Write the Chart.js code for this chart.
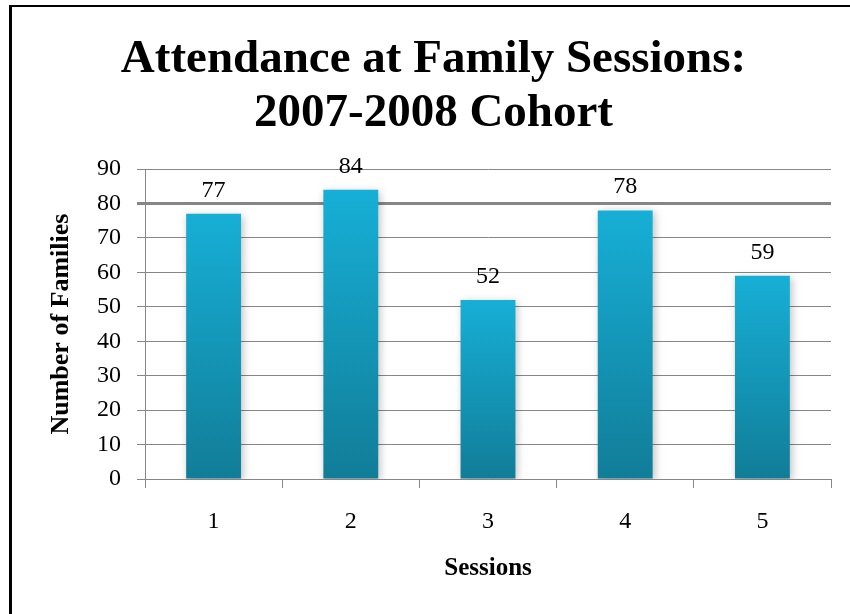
<!DOCTYPE html>
<html>
<head>
<meta charset="utf-8">
<script src="https://cdn.jsdelivr.net/npm/chart.js@4"></script>
<style>
  html, body { margin: 0; padding: 0; background: #fff; }
  #wrap { position: relative; width: 850px; height: 614px; overflow: hidden; }
  #frame { position: absolute; left: 9px; top: 5px; right: -10px; bottom: -10px;
           border-left: 3px solid #000; border-top: 2px solid #000; }
  #chart { position: absolute; left: 0; top: 0; }
</style>
</head>
<body>
<div id="wrap">
  <div id="frame"></div>
  <canvas id="chart" width="850" height="614"></canvas>
</div>
<script>
const sessions = ['1', '2', '3', '4', '5'];
const families = [77, 84, 52, 78, 59];
const titleLines = ['Attendance at Family Sessions:', '2007-2008 Cohort'];
const yMax = 90;
const yStep = 10;

const serif = '"Liberation Serif", "Times New Roman", serif';

// gradient per bar, light cyan at the top fading to teal at the base
function barFill(ctx) {
    const chart = ctx.chart;
    const y = chart.scales && chart.scales.y;
    if (!chart.chartArea || !y || ctx.type !== 'data') return '#15a0c4';
    const top = y.getPixelForValue(ctx.raw);
    const base = y.getPixelForValue(0);
    if (!isFinite(top) || !isFinite(base) || top === base) return '#15a0c4';
    const g = chart.ctx.createLinearGradient(0, top, 0, base);
    g.addColorStop(0, '#17afd6');
    g.addColorStop(1, '#117d98');
    return g;
}

// soft drop shadow behind the bars
const barShadow = {
    id: 'barShadow',
    beforeDatasetDraw(chart) {
        const c = chart.ctx;
        c.save();
        c.shadowColor = 'rgba(0,0,0,0.25)';
        c.shadowBlur = 8;
        c.shadowOffsetX = 2;
        c.shadowOffsetY = 2;
    },
    afterDatasetDraw(chart) {
        chart.ctx.restore();
    }
};

// value written above each bar
const valueLabels = {
    id: 'valueLabels',
    afterDatasetsDraw(chart) {
        const c = chart.ctx;
        const meta = chart.getDatasetMeta(0);
        c.save();
        c.font = '24px ' + serif;
        c.fillStyle = '#000';
        c.textAlign = 'center';
        c.textBaseline = 'alphabetic';
        meta.data.forEach((bar, i) => {
            c.fillText(String(families[i]), bar.x, bar.y - 17);
        });
        c.restore();
    }
};

new Chart(document.getElementById('chart'), {
    type: 'bar',
    data: {
        labels: sessions,
        datasets: [{
            data: families,
            backgroundColor: barFill,
            borderWidth: 0,
            categoryPercentage: 1,
            barPercentage: 0.4
        }]
    },
    plugins: [barShadow, valueLabels],
    options: {
        responsive: false,
        animation: false,
        // left padding pushes the centred title to the right
        layout: { padding: { left: 36, right: 19, top: 0, bottom: 0 } },
        plugins: {
            legend: { display: false },
            tooltip: { enabled: false },
            title: {
                display: true,
                text: titleLines,
                color: '#000',
                font: { family: serif, size: 47, weight: 'bold', lineHeight: 1.15 },
                padding: { top: 32.5, bottom: 28.5 }
            }
        },
        scales: {
            x: {
                afterFit(scale) { scale.height = 135; },
                grid: { drawOnChartArea: false, drawTicks: true, tickLength: 9, color: '#868686' },
                border: { color: '#868686' },
                ticks: { color: '#000', font: { family: serif, size: 24 }, padding: 19 },
                title: {
                    display: true,
                    text: 'Sessions',
                    color: '#000',
                    font: { family: serif, size: 25, weight: 'bold' },
                    padding: { top: 0, bottom: 30 }
                }
            },
            y: {
                min: 0,
                max: yMax,
                afterFit(scale) { scale.width = 109; },
                grid: {
                    color: '#868686',
                    lineWidth: ctx => (ctx.tick && ctx.tick.value === 80 ? 3 : 1),
                    tickLength: 8
                },
                border: { color: '#868686' },
                ticks: { stepSize: yStep, color: '#000', font: { family: serif, size: 24 }, padding: 16 },
                title: {
                    display: true,
                    text: 'Number of Families',
                    color: '#000',
                    font: { family: serif, size: 26, weight: 'bold' },
                    padding: { top: 10, bottom: 0 }
                }
            }
        }
    }
});
</script>
</body>
</html>
